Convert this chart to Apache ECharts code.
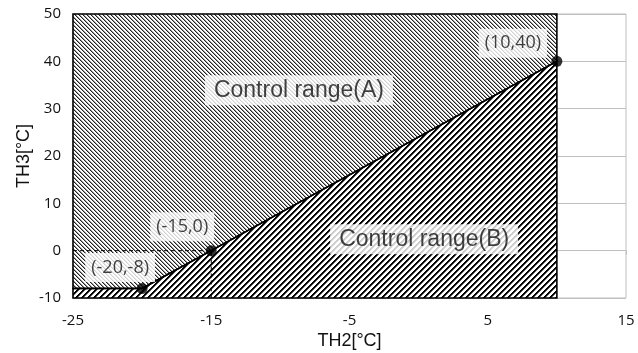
<!DOCTYPE html>
<html>
<head>
<meta charset="utf-8">
<script src="https://cdn.jsdelivr.net/npm/echarts@6/dist/echarts.min.js"></script>
<style>
html,body{margin:0;padding:0;background:#fff;}
#chart{width:638px;height:353px;}
</style>
</head>
<body>
<div id="chart"></div>
<script>
// ---- data ----
const xTicks = [-25, -15, -5, 5, 15];
const yTicks = [-10, 0, 10, 20, 30, 40, 50];
// boundary between ranges (A above, B below)
const boundaryX = [-25, -20, -15, 10];
const boundaryY = [-8, -8, 0, 40];
// region A polygon
const regionAX = [-25, 10, 10, -15, -20, -25];
const regionAY = [50, 50, 40, 0, -8, -8];
// region B polygon
const regionBX = [-25, 10, 10, -15, -20, -25];
const regionBY = [-10, -10, 40, 0, -8, -8];
// key points
const pointX = [-20, -15, 10];
const pointY = [-8, 0, 40];
const pointLabels = ['(-20,-8)', '(-15,0)', '(10,40)'];
// dashed guide (-25,0) -> (-15,0) -> (-15,-10)
const guideX = [-25, -15, -15];
const guideY = [0, 0, -10];
const regionNames = ['Control range(A)', 'Control range(B)'];

function makePattern(size, fn) {
  const c = document.createElement('canvas');
  c.width = size; c.height = size;
  const ctx = c.getContext('2d');
  ctx.fillStyle = '#fff';
  ctx.fillRect(0, 0, size, size);
  for (let y = 0; y < size; y++) {
    for (let x = 0; x < size; x++) {
      const col = fn(x, y);
      if (col) { ctx.fillStyle = col; ctx.fillRect(x, y, 1, 1); }
    }
  }
  return c;
}
// fine "\" hatch
const patA = makePattern(4, (x, y) => {
  const m = ((x - y) % 4 + 4) % 4;
  return m === 0 ? '#222' : (m === 1 ? '#9a9a9a' : null);
});
// coarse "/" hatch
const patB = makePattern(6, (x, y) => {
  const m = (x + y) % 6;
  return m < 2 ? '#000' : (m === 2 ? '#666' : null);
});

function polySeries(xs, ys, pat) {
  return {
    type: 'custom',
    coordinateSystem: 'cartesian2d',
    z: 1,
    silent: true,
    data: xs.map((x, i) => [x, ys[i]]),
    renderItem: function (params, api) {
      if (params.dataIndex !== 0) return null;
      const pts = xs.map((x, i) => api.coord([x, ys[i]]));
      return {
        type: 'polygon',
        shape: { points: pts },
        style: { fill: { image: pat, repeat: 'repeat' }, stroke: '#000', lineWidth: 1.6 }
      };
    }
  };
}

const chart = echarts.init(document.getElementById('chart'), null, { renderer: 'canvas' });
const gray = '#bfbfbf';
const lblFont = '"Open Sans", sans-serif';
const arial = '"Liberation Sans", Arial, sans-serif';

const pointOffsets = [[-22, -21], [-29, -24], [-44, -18]];
const regionAnchors = [[-8.66, 33.9], [0.4, 2.4]];

chart.setOption({
  animation: false,
  backgroundColor: '#fff',
  grid: { left: 73, right: 12, top: 14, bottom: 55, show: true, borderColor: gray, borderWidth: 1,
          containLabel: false, outerBoundsMode: 'none' },
  xAxis: {
    type: 'value', min: xTicks[0], max: xTicks[xTicks.length - 1], interval: 10,
    name: 'TH2[°C]', nameLocation: 'middle', nameGap: 34, nameMoveOverlap: false,
    nameTextStyle: { fontFamily: arial, fontSize: 18, color: '#111' },
    axisLine: { show: true, lineStyle: { color: gray } },
    axisTick: { show: true, length: 4, lineStyle: { color: gray } },
    axisLabel: { fontFamily: lblFont, fontSize: 15, color: '#111', margin: 15 },
    splitLine: { show: false }
  },
  yAxis: {
    type: 'value', min: yTicks[0], max: yTicks[yTicks.length - 1], interval: 10,
    name: 'TH3[°C]', nameLocation: 'middle', nameGap: 40, nameRotate: 90, nameMoveOverlap: false,
    nameTextStyle: { fontFamily: arial, fontSize: 18, color: '#111' },
    axisLine: { show: true, lineStyle: { color: gray } },
    axisTick: { show: true, length: 4, lineStyle: { color: gray } },
    axisLabel: { fontFamily: lblFont, fontSize: 15, color: '#111', margin: 12 },
    splitLine: { show: true, lineStyle: { color: gray, width: 1 } }
  },
  series: [
    polySeries(regionAX, regionAY, patA),
    polySeries(regionBX, regionBY, patB),
    {
      type: 'line', z: 3, silent: true, symbol: 'none',
      data: boundaryX.map((x, i) => [x, boundaryY[i]]),
      lineStyle: { color: '#000', width: 1.6 }
    },
    {
      type: 'line', z: 3, silent: true, symbol: 'none',
      data: guideX.map((x, i) => [x, guideY[i]]),
      lineStyle: { color: '#000', width: 1, type: [4, 3] }
    },
    {
      type: 'scatter', z: 5, silent: true, symbolSize: 11,
      itemStyle: { color: '#000' },
      data: pointX.map((x, i) => ({
        value: [x, pointY[i]],
        label: {
          show: true, position: 'inside', offset: pointOffsets[i],
          formatter: pointLabels[i],
          fontFamily: lblFont, fontSize: 18, color: '#111',
          backgroundColor: '#fff', padding: [6, 6, 5, 6]
        }
      }))
    },
    {
      type: 'scatter', z: 6, silent: true, symbolSize: 0,
      data: regionNames.map((n, i) => ({
        value: regionAnchors[i],
        label: {
          show: true, position: 'inside', formatter: n,
          fontFamily: arial, fontSize: 23, color: '#111',
          backgroundColor: '#fff', padding: [4, 9, 3, 9]
        }
      }))
    }
  ]
});
</script>
</body>
</html>
